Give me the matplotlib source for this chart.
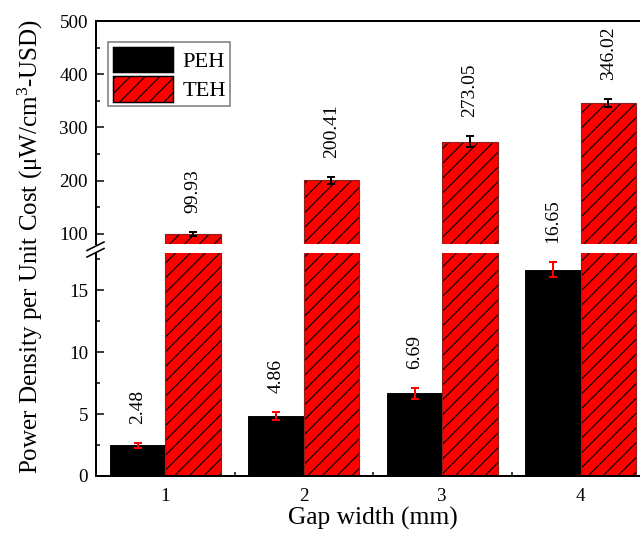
import matplotlib
matplotlib.use("Agg")
import matplotlib.pyplot as plt
from matplotlib.patches import Patch
from matplotlib.lines import Line2D
import numpy as np

# ---- data ----
gap_width = [1, 2, 3, 4]
peh_values = [2.48, 4.86, 6.69, 16.65]
peh_errors = [0.2, 0.3, 0.45, 0.6]
teh_values = [99.93, 200.41, 273.05, 346.02]
teh_errors = [4, 7, 10, 7]
peh_labels = ["2.48", "4.86", "6.69", "16.65"]
teh_labels = ["99.93", "200.41", "273.05", "346.02"]
series_names = ["PEH", "TEH"]

W, H = 640, 533
DPI = 640 / 4.8
def pt(px):
    return px * 72.0 / DPI

plt.rcParams['font.family'] = ['Liberation Serif', 'DejaVu Serif']
plt.rcParams['mathtext.fontset'] = 'custom'
plt.rcParams['mathtext.rm'] = 'Liberation Serif'
plt.rcParams['mathtext.it'] = 'Liberation Serif:italic'
plt.rcParams['hatch.linewidth'] = 0.6

fig = plt.figure(figsize=(W / DPI, H / DPI), dpi=DPI)

left = 96 / W
width = (650 - 96) / W
ax_up = fig.add_axes([left, 1 - 244 / H, width, (244 - 21) / H])
ax_lo = fig.add_axes([left, 1 - 476 / H, width, (476 - 253) / H])

x = np.array(gap_width, dtype=float)
bw = 0.4
for ax in (ax_up, ax_lo):
    ax.set_facecolor('none')
    ax.bar(x - bw / 2, peh_values, bw, color='black', edgecolor='black', linewidth=0.5, zorder=2)
    ax.bar(x + bw / 2, teh_values, bw, color='#ff0000', edgecolor='black', hatch='///',
           linewidth=0, zorder=2)
    ax.bar(x + bw / 2, teh_values, bw, color='none', edgecolor='#8a2020', linewidth=0.6, zorder=2.1)
    ax.errorbar(x - bw / 2, peh_values, yerr=peh_errors, fmt='none', ecolor='red',
                elinewidth=pt(2), capsize=pt(4), capthick=pt(2), zorder=3)
    ax.errorbar(x + bw / 2, teh_values, yerr=teh_errors, fmt='none', ecolor='black',
                elinewidth=pt(2), capsize=pt(4), capthick=pt(2), zorder=3)
    ax.set_xlim(0.5, 4.5)
    ax.spines['right'].set_visible(False)
    for s in ax.spines.values():
        s.set_linewidth(pt(2))
    ax.tick_params(axis='both', which='major', direction='in', length=pt(8), width=pt(1.5),
                   labelsize=pt(19), pad=pt(8))
    ax.tick_params(axis='both', which='minor', direction='in', length=pt(4), width=pt(1.5))
    ax.set_axisbelow(True)

# upper axis
ax_up.set_ylim(81, 500)
ax_up.set_yticks([100, 200, 300, 400, 500])
ax_up.set_yticks([150, 250, 350, 450], minor=True)
ax_up.spines['bottom'].set_visible(False)
ax_up.tick_params(axis='x', which='both', bottom=False, labelbottom=False)

# lower axis
ax_lo.set_ylim(0, 18)
ax_lo.set_yticks([0, 5, 10, 15])
ax_lo.set_yticks([2.5, 7.5, 12.5, 17.5], minor=True)
ax_lo.spines['top'].set_visible(False)
ax_lo.set_xticks(gap_width)
ax_lo.set_xticks([1.5, 2.5, 3.5], minor=True)
ax_lo.set_xticklabels([str(g) for g in gap_width])
ax_lo.tick_params(axis='x', which='major', pad=pt(12))

# value labels
for xi, v, e, lab in zip(x, peh_values, peh_errors, peh_labels):
    ax_lo.annotate(lab, (xi - bw / 2, v + e), xytext=(0, pt(19)), textcoords='offset points',
                   rotation=90, ha='center', va='bottom', fontsize=pt(19.5), annotation_clip=False)
for xi, v, e, lab in zip(x, teh_values, teh_errors, teh_labels):
    ax_up.annotate(lab, (xi + bw / 2, v + e), xytext=(0, pt(19)), textcoords='offset points',
                   rotation=90, ha='center', va='bottom', fontsize=pt(19.5), annotation_clip=False)

# break marks
for (x0, y0, x1, y1) in [(87, 250.5, 104, 242), (87, 257, 104, 248.5)]:
    fig.add_artist(Line2D([x0 / W, x1 / W], [1 - y0 / H, 1 - y1 / H], color='black',
                          linewidth=pt(1.6), transform=fig.transFigure))

# axis labels
fig.text(373 / W, 1 - 518 / H, 'Gap width (mm)', ha='center', va='center', fontsize=pt(25.5))
fig.text(30 / W, 1 - 246 / H, r'Power Density per Unit Cost (μW/cm$^{3}$-USD)',
         rotation=90, ha='center', va='center', fontsize=pt(25))

# legend
handles = [Patch(facecolor='black', edgecolor='black', linewidth=0.8),
           Patch(facecolor='#ff0000', edgecolor='black', hatch='///', linewidth=0.8)]
leg = fig.legend(handles, series_names, loc='upper left',
                 bbox_to_anchor=(108 / W, 1 - 42 / H), bbox_transform=fig.transFigure,
                 fontsize=pt(22.5), frameon=True, fancybox=False, edgecolor='#555555',
                 handlelength=2.7, handleheight=1.4, labelspacing=0.15, borderpad=0.2,
                 handletextpad=0.4, borderaxespad=0)
leg.get_frame().set_linewidth(pt(1.5))

fig.savefig('out.png', dpi=DPI)
